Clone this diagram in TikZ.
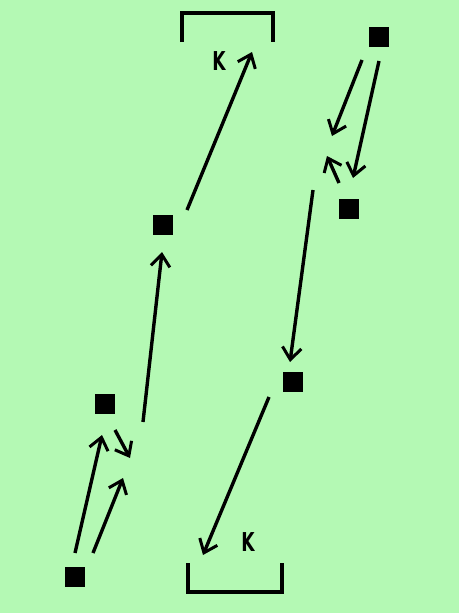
\documentclass[tikz,border=0pt]{standalone}
\usepackage{fontspec}
\setmainfont{Liberation Sans}
\newfontfamily\kfont{DejaVu Sans}
\usetikzlibrary{arrows.meta}
\definecolor{bg}{RGB}{180,249,180}
\begin{document}
\begin{tikzpicture}[x=1pt,y=-1pt,
  player/.style={fill=black,draw=none,minimum size=20pt,inner sep=0pt},
  mv/.style={line width=3.4pt,-{Straight Barb[length=12pt,width=19pt,line width=3pt]}},
  goal/.style={line width=3.4pt},
  klabel/.style={font=\kfont\bfseries\fontsize{26}{26}\selectfont,inner sep=0pt,xscale=0.66}]
\fill[bg] (0,0) rectangle (459,613);
\useasboundingbox (0,0) rectangle (459,613);
% players
\node[player] (p1) at (163,225) {};
\node[player] (p2) at (105,404) {};
\node[player] (p3) at (75,577) {};
\node[player] (p4) at (379,37) {};
\node[player] (p5) at (349,209) {};
\node[player] (p6) at (293,382) {};
% goals
\draw[goal] (182,42) -- (182,13) -- (273,13) -- (273,42);
\draw[goal] (188,563) -- (188,592) -- (282,592) -- (282,563);
\node[klabel] (k1) at (219,61) {K};
\node[klabel] (k2) at (248,542) {K};
% arrow endpoints
\coordinate (a1s) at (187,210); \coordinate (a1e) at (252,52);
\coordinate (a2s) at (143,422); \coordinate (a2e) at (162,252);
\coordinate (a3s) at (75,553);  \coordinate (a3e) at (102,435);
\coordinate (a4s) at (93,553);  \coordinate (a4e) at (123,478);
\coordinate (a5s) at (115,430); \coordinate (a5e) at (130,458);
\coordinate (b1s) at (362,60);  \coordinate (b1e) at (332,136);
\coordinate (b2s) at (379,61);  \coordinate (b2e) at (353,178);
\coordinate (b3s) at (339,183); \coordinate (b3e) at (327,156);
\coordinate (b4s) at (313,190); \coordinate (b4e) at (290,362);
\coordinate (b5s) at (269,397); \coordinate (b5e) at (203,555);
\draw[mv] (a1s) -- (a1e);
\draw[mv] (a2s) -- (a2e);
\draw[mv] (a3s) -- (a3e);
\draw[mv] (a4s) -- (a4e);
\draw[mv] (a5s) -- (a5e);
\draw[mv] (b1s) -- (b1e);
\draw[mv] (b2s) -- (b2e);
\draw[mv] (b3s) -- (b3e);
\draw[mv] (b4s) -- (b4e);
\draw[mv] (b5s) -- (b5e);
\end{tikzpicture}
\end{document}
